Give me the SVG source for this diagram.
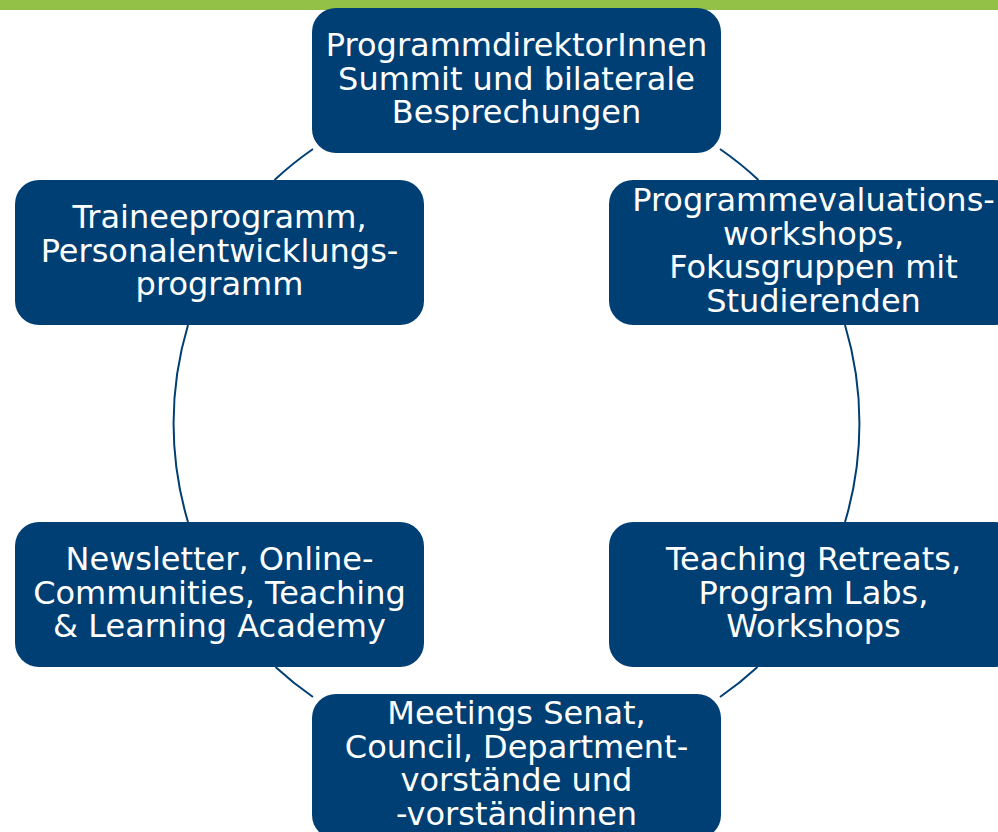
<svg xmlns="http://www.w3.org/2000/svg" width="998" height="832" viewBox="0 0 998 832">
<style>
.node{fill:#003f74}
.lbl{font-family:"DejaVu Sans","Verdana",sans-serif;font-size:32px;fill:#ffffff;text-anchor:middle}
.conn{fill:none;stroke:#003f74;stroke-width:2}
</style>
<rect x="0" y="0" width="998" height="10" fill="#93c047"/>
<g id="connectors">
<path class="conn" d="M313,149 A343,343 0 0 0 274.5,180"/>
<path class="conn" d="M188,325 A343,343 0 0 0 188,522"/>
<path class="conn" d="M275.5,667 A343,343 0 0 0 313,697"/>
<path class="conn" d="M720,697 A343,343 0 0 0 757.5,667"/>
<path class="conn" d="M845,522 A343,343 0 0 0 845,325"/>
<path class="conn" d="M758.5,180 A343,343 0 0 0 720,149"/>
</g>
<g id="node-top">
<rect class="node" x="312" y="8" width="409" height="145" rx="24"/>
<text class="lbl" x="516.5" y="56">ProgrammdirektorInnen</text>
<text class="lbl" x="516.5" y="89.5">Summit und bilaterale</text>
<text class="lbl" x="516.5" y="123">Besprechungen</text>
</g>
<g id="node-topright">
<rect class="node" x="609" y="180" width="409" height="145" rx="24"/>
<text class="lbl" x="813.5" y="211">Programmevaluations-</text>
<text class="lbl" x="813.5" y="244.5">workshops,</text>
<text class="lbl" x="813.5" y="278">Fokusgruppen mit</text>
<text class="lbl" x="813.5" y="311.5">Studierenden</text>
</g>
<g id="node-bottomright">
<rect class="node" x="609" y="522" width="409" height="145" rx="24"/>
<text class="lbl" x="813.5" y="570">Teaching Retreats,</text>
<text class="lbl" x="813.5" y="603.5">Program Labs,</text>
<text class="lbl" x="813.5" y="637">Workshops</text>
</g>
<g id="node-bottom">
<rect class="node" x="312" y="694" width="409" height="145" rx="24"/>
<text class="lbl" x="516.5" y="724">Meetings Senat,</text>
<text class="lbl" x="516.5" y="757.5">Council, Department-</text>
<text class="lbl" x="516.5" y="791">vorstände und</text>
<text class="lbl" x="516.5" y="824.5">-vorständinnen</text>
</g>
<g id="node-bottomleft">
<rect class="node" x="15" y="522" width="409" height="145" rx="24"/>
<text class="lbl" x="219.5" y="570">Newsletter, Online-</text>
<text class="lbl" x="219.5" y="603.5">Communities, Teaching</text>
<text class="lbl" x="219.5" y="637">&amp; Learning Academy</text>
</g>
<g id="node-topleft">
<rect class="node" x="15" y="180" width="409" height="145" rx="24"/>
<text class="lbl" x="219.5" y="228">Traineeprogramm,</text>
<text class="lbl" x="219.5" y="261.5">Personalentwicklungs-</text>
<text class="lbl" x="219.5" y="295">programm</text>
</g>
</svg>
